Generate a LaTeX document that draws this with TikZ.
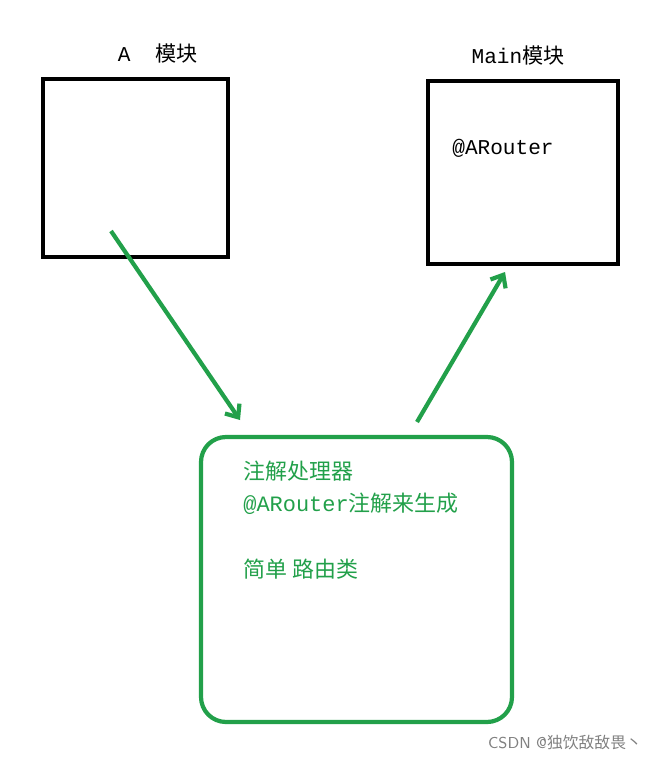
\documentclass[tikz,border=0pt]{standalone}
\usepackage{fontspec}
\setmonofont{Liberation Mono}
\newfontfamily\cjk{Noto Sans CJK SC}
\usetikzlibrary{arrows.meta}
\begin{document}
\begin{tikzpicture}[x=0.02cm,y=-0.02cm,
  blk/.style={draw=black,line width=2.3pt},
  grn/.style={draw=gcol,line width=2.4pt},
  gtxt/.style={text=gcol,anchor=west,font=\fontsize{12.5}{14}\selectfont,inner sep=0pt},
  lbl/.style={font=\fontsize{12}{14}\selectfont,inner sep=0pt}]
\definecolor{gcol}{RGB}{34,160,74}
\useasboundingbox (0,0) rectangle (664,761);
\node[blk,minimum width=185*0.02cm,minimum height=178*0.02cm,inner sep=0pt] (A) at (135.5,168) {};
\node[blk,minimum width=190*0.02cm,minimum height=183*0.02cm,inner sep=0pt] (M) at (523,172.5) {};
\node[lbl] (Al) at (158,54) {\ttfamily A\ \ \cjk 模块};
\node[lbl] (Ml) at (518,56) {\ttfamily Main\cjk 模块};
\node[lbl,anchor=west] (ar) at (452,148) {\ttfamily @ARouter};
\draw[grn,rounded corners=25*0.02cm] (201,437) rectangle (512,722);
\node[gtxt] (t1) at (243,471) {\cjk 注解处理器};
\node[gtxt] (t2) at (243,504) {\ttfamily @ARouter\cjk 注解来生成};
\node[gtxt] (t3) at (243,569) {\cjk 简单\ 路由类};
\coordinate (a1) at (111,231);
\coordinate (a2) at (240,420);
\coordinate (b1) at (417,422);
\coordinate (b2) at (505,272);
\draw[grn,-{Straight Barb[length=6pt,width=10pt]}] (a1) -- (a2);
\draw[grn,-{Straight Barb[length=6pt,width=10pt]}] (b1) -- (b2);
\node[text=gray,font=\fontsize{9}{11}\selectfont\sffamily] (w) at (565,743) {CSDN @\cjk 独饮敌敌畏丶};
\end{tikzpicture}
\end{document}
